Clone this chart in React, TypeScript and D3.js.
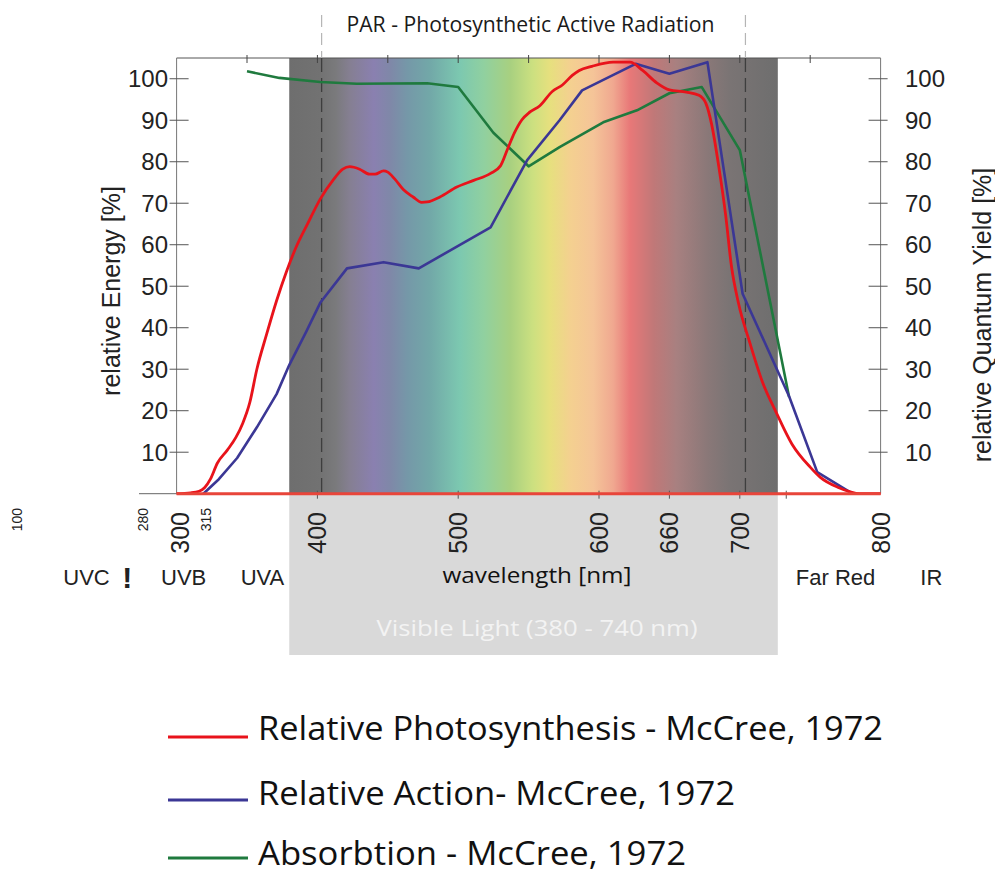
import React from 'react';
import * as d3 from 'd3';

// ---- Data ----
const photoWl = [300, 310, 316, 320, 324, 329, 336, 342, 347, 352, 357, 364, 371, 378, 385, 393, 402, 411, 418, 423, 430, 437, 441, 447, 450, 455, 461, 468, 474, 478, 487, 499, 511, 523, 530, 535, 540, 545, 551, 558, 567, 574, 581, 586, 595, 610, 622, 631, 641, 650, 662, 671, 676, 680, 685, 690, 694, 699, 707, 716, 726, 737, 750, 757, 770, 778, 785, 800];
const photoVal = [0, 0.2, 0.6, 1.5, 3.5, 7.4, 10.5, 13.5, 17, 22, 30, 38.5, 46.5, 53.5, 59.5, 65, 71, 75.5, 78.2, 78.8, 78.2, 77, 77, 77.8, 77.5, 75.8, 73.3, 71.5, 70.2, 70.3, 71.5, 73.9, 75.5, 77.2, 79, 83, 87, 90, 92, 93.5, 97, 98.5, 100.8, 102, 103, 104, 104, 102, 99, 97.3, 96.8, 96, 94, 89, 79, 67, 55, 46, 36.5, 27, 19.5, 12, 6.4, 4, 1.5, 0.5, 0, 0];

const actionWl = [319, 330, 343, 357, 371, 380, 392, 402, 421, 447, 472, 523, 549, 572, 588, 626, 650, 677, 702, 735, 755, 780];
const actionVal = [0, 3.5, 8.6, 16, 24, 31, 39, 46, 54.3, 55.8, 54.3, 64.2, 80.4, 90, 97.2, 103.6, 101.2, 104, 48.2, 23.5, 5.2, 0];

const absorbWl = [350, 373, 402, 428, 478, 500, 525, 550, 572, 603, 627, 650, 673, 700, 735];
const absorbVal = [101.8, 100.2, 99.2, 98.8, 98.9, 98, 87, 78.9, 83.5, 89.5, 92.4, 96.5, 98, 82.8, 23.3];

const yTicks = [10, 20, 30, 40, 50, 60, 70, 80, 90, 100];
const xTickValues = [300, 400, 500, 600, 650, 700, 800];
const xTickLabels = ['300', '400', '500', '600', '660', '700', '800'];
const smallTickPos = [187, 276, 321];
const smallTickLabels = ['100', '280', '315'];
const topTicks = [350, 400, 450, 500, 550, 600, 650, 700, 750];
const bottomTicks = [400, 500, 600, 650, 700, 733];

const bandNames = ['UVC', 'UVB', 'UVA', 'Far Red', 'IR'];
const bandCenters = [236, 305, 361, 768, 836];

const spectrumWl = [380, 402, 413, 423, 440, 452, 464, 480, 501, 518, 537, 553, 565, 580, 596, 610, 622, 639, 655, 677, 693, 727];
const spectrumColors = ['#6e6e6e', '#727272', '#7a7a7c', '#857f92', '#8a80b0', '#7f88a8', '#7598a8', '#72a8a8', '#7cc8b0', '#90d0a0', '#a8d080', '#cce080', '#e6e07e', '#f4d090', '#f5c498', '#f0a890', '#e87878', '#c07878', '#a88080', '#8a7878', '#7a7474', '#6e6e6e'];
const visibleRange = [380, 727];
const parRange = [403, 704];

const seriesNames = ['Relative Photosynthesis - McCree, 1972', 'Relative Action- McCree, 1972', 'Absorbtion - McCree, 1972'];
const seriesColors = ['#e8131b', '#3b3795', '#1f7a3e'];

export default function App() {
  const W = 995, H = 873;
  const x = d3.scaleLinear().domain([300, 800]).range([176.6, 880.6]);
  const y = d3.scaleLinear().domain([0, 105]).range([493.7, 58]);
  const x0 = x(300), x1 = x(800), yTop = y(105), yBase = y(0);

  const smooth = d3.line<[number, number]>().x(d => x(d[0])).y(d => y(d[1])).curve(d3.curveMonotoneX);
  const straight = d3.line<[number, number]>().x(d => x(d[0])).y(d => y(d[1])).curve(d3.curveLinear);

  const photo = photoWl.map((w, i) => [w, photoVal[i]] as [number, number]);
  const action = actionWl.map((w, i) => [w, actionVal[i]] as [number, number]);
  const absorb = absorbWl.map((w, i) => [w, absorbVal[i]] as [number, number]);

  const vx0 = x(visibleRange[0]), vx1 = x(visibleRange[1]);
  const numFont = '"Liberation Sans", Arial, sans-serif';
  const humFont = '"Open Sans", "Noto Sans", sans-serif';

  const legendY = [737, 800, 858];
  const legendTextY = [740, 805, 865];
  const legendLen = [625, 477, 428];

  return (
    <svg width={W} height={H} style={{ position: 'absolute', left: 0, top: 0, background: '#fff' }}>
      <defs>
        <linearGradient id="spec" gradientUnits="userSpaceOnUse" x1={vx0} x2={vx1} y1={0} y2={0}>
          {spectrumWl.map((w, i) => (
            <stop key={i} offset={(w - visibleRange[0]) / (visibleRange[1] - visibleRange[0])} stopColor={spectrumColors[i]} />
          ))}
        </linearGradient>
      </defs>
      <rect x={0} y={0} width={W} height={H} fill="#fff" />

      {/* visible light band */}
      <rect x={vx0} y={yBase} width={vx1 - vx0} height={655 - yBase} fill="#d9d9d9" />
      <rect x={vx0} y={yTop} width={vx1 - vx0} height={yBase - yTop} fill="url(#spec)" />

      {/* frame */}
      <line x1={x0} x2={x1} y1={yTop} y2={yTop} stroke="#555" strokeWidth={1} />
      <line x1={x0} x2={x0} y1={yTop} y2={yBase} stroke="#777" strokeWidth={1} />
      <line x1={x1} x2={x1} y1={yTop} y2={yBase} stroke="#777" strokeWidth={1} />
      <line x1={139} x2={x0} y1={yBase} y2={yBase} stroke="#666" strokeWidth={1} />

      {/* ticks */}
      {yTicks.map(t => (
        <g key={'yt' + t}>
          <line x1={x0 - 7} x2={x0 + 12} y1={y(t)} y2={y(t)} stroke="#555" strokeWidth={1} />
          <text x={168} y={y(t)} dominantBaseline="central" textAnchor="end" fontFamily={numFont} fontSize={24} fill="#222">{t}</text>
          <line x1={x1 - 12} x2={x1 + 7} y1={y(t)} y2={y(t)} stroke="#555" strokeWidth={1} />
          <text x={905} y={y(t)} dominantBaseline="central" textAnchor="start" fontFamily={numFont} fontSize={24} fill="#222">{t}</text>
        </g>
      ))}
      {topTicks.map(t => (
        <line key={'tt' + t} x1={x(t)} x2={x(t)} y1={yTop - 3} y2={yTop + 5} stroke="#444" strokeWidth={1} />
      ))}
      {bottomTicks.map(t => (
        <line key={'bt' + t} x1={x(t)} x2={x(t)} y1={yBase - 3} y2={yBase + 5} stroke="#555" strokeWidth={1} />
      ))}

      {/* PAR dashed lines */}
      {parRange.map(w => (
        <g key={'par' + w}>
          <line x1={x(w)} x2={x(w)} y1={15} y2={yTop} stroke="#b5b5b5" strokeWidth={1.2} strokeDasharray="12 6" />
          <line x1={x(w)} x2={x(w)} y1={yTop} y2={yBase} stroke="#3e3e3e" strokeWidth={1.3} strokeDasharray="14 6" />
        </g>
      ))}
      <text x={(x(parRange[0]) + x(parRange[1])) / 2 - 3} y={32} textAnchor="middle" fontFamily={humFont} fontSize={21} textLength={368} lengthAdjust="spacingAndGlyphs" fill="#1a1a1a">PAR - Photosynthetic Active Radiation</text>

      {/* series */}
      <path d={straight(absorb) || ''} fill="none" stroke={seriesColors[2]} strokeWidth={2.6} strokeLinejoin="round" />
      <path d={straight(action) || ''} fill="none" stroke={seriesColors[1]} strokeWidth={2.6} strokeLinejoin="round" />
      <path d={smooth(photo) || ''} fill="none" stroke={seriesColors[0]} strokeWidth={2.8} strokeLinejoin="round" />
      <line x1={x0} x2={x1} y1={yBase} y2={yBase} stroke="#e8453a" strokeWidth={3} />

      {/* axis titles */}
      <text transform={`translate(111,291) rotate(-90)`} textAnchor="middle" dominantBaseline="central" fontFamily={numFont} fontSize={25} fill="#222">relative Energy [%]</text>
      <text transform={`translate(982,315) rotate(-90)`} textAnchor="middle" dominantBaseline="central" fontFamily={numFont} fontSize={25} fill="#222">relative Quantum Yield  [%]</text>

      {/* x tick labels */}
      {xTickValues.map((v, i) => (
        <text key={'xl' + v} transform={`translate(${x(v) + (v === 300 ? 3 : 0)},512) rotate(-90)`} textAnchor="end" dominantBaseline="central" fontFamily={numFont} fontSize={25} fill="#222">{xTickLabels[i]}</text>
      ))}
      {smallTickPos.map((v, i) => (
        <text key={'sl' + v} transform={`translate(${x(v)},508) rotate(-90)`} textAnchor="end" dominantBaseline="central" fontFamily={numFont} fontSize={14} fill="#222">{smallTickLabels[i]}</text>
      ))}

      {/* band labels */}
      {bandNames.map((n, i) => (
        <text key={n} x={x(bandCenters[i])} y={585} textAnchor="middle" fontFamily={numFont} fontSize={22} fill="#222">{n}</text>
      ))}
      <text x={x(265)} y={588} textAnchor="middle" fontFamily={numFont} fontSize={30} fontWeight="bold" fill="#222">!</text>

      <text x={537} y={583} textAnchor="middle" fontFamily={humFont} fontSize={22} fontWeight={500} textLength={189} lengthAdjust="spacingAndGlyphs" fill="#111">wavelength [nm]</text>
      <text x={537} y={636} textAnchor="middle" fontFamily={humFont} fontSize={22} textLength={321} lengthAdjust="spacingAndGlyphs" fill="#f3f3f3">Visible Light (380 -  740 nm)</text>

      {/* legend */}
      {seriesNames.map((n, i) => (
        <g key={n}>
          <line x1={168} x2={248} y1={legendY[i]} y2={legendY[i]} stroke={seriesColors[i]} strokeWidth={3} />
          <text x={258} y={legendTextY[i]} fontFamily={humFont} fontSize={32} textLength={legendLen[i]} lengthAdjust="spacingAndGlyphs" fill="#111">{n}</text>
        </g>
      ))}
    </svg>
  );
}
